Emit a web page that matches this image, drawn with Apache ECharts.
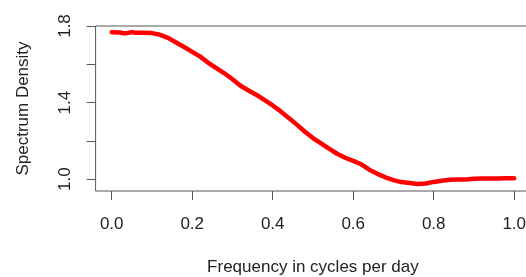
<!DOCTYPE html>
<html>
<head>
<meta charset="utf-8">
<script src="https://cdn.jsdelivr.net/npm/echarts@6/dist/echarts.min.js"></script>
<style>
html,body{margin:0;padding:0;background:#fff;}
#chart{width:526px;height:277px;}
</style>
</head>
<body>
<div id="chart"></div>
<script>
var freq = [0.00,0.02,0.03,0.04,0.05,0.06,0.08,0.10,0.12,0.14,0.16,0.18,0.20,0.22,0.24,0.26,0.28,0.30,0.32,0.34,0.36,0.38,0.40,0.42,0.44,0.46,0.48,0.50,0.52,0.54,0.56,0.58,0.60,0.62,0.64,0.66,0.68,0.70,0.72,0.74,0.76,0.78,0.80,0.82,0.84,0.86,0.88,0.90,0.92,0.94,0.96,0.98,1.00];
var density = [1.768,1.766,1.762,1.764,1.768,1.765,1.765,1.763,1.754,1.738,1.714,1.690,1.665,1.640,1.608,1.580,1.553,1.522,1.488,1.463,1.440,1.413,1.385,1.354,1.320,1.285,1.248,1.215,1.187,1.160,1.133,1.112,1.096,1.078,1.050,1.028,1.010,0.995,0.985,0.980,0.975,0.978,0.986,0.992,0.997,0.998,0.998,1.003,1.004,1.004,1.004,1.005,1.005];
var xTicks = [0, 0.2, 0.4, 0.6, 0.8, 1.0];
var yTicks = [1.0, 1.2, 1.4, 1.6, 1.8];
var yLabelTicks = [1.0, 1.4, 1.8];
var xTitle = 'Frequency in cycles per day';
var yTitle = 'Spectrum Density';

var pts = freq.map(function(f, i){ return [f, density[i]]; });
var axisColor = '#555';
var textColor = '#222';
var font = 'Liberation Sans, Arial, sans-serif';

var chart = echarts.init(document.getElementById('chart'), null, {renderer:'canvas'});
chart.setOption({
  animation: false,
  backgroundColor: '#fff',
  grid: {left: 95.6, top: 26, width: 434.7, height: 165, show: true, borderColor: axisColor, borderWidth: 1,
    backgroundColor: 'transparent', containLabel: false, outerBoundsMode: 'none'},
  xAxis: {
    type: 'value', min: -0.04, max: 1.04,
    axisLine: {show: false, onZero: false},
    splitLine: {show: false},
    axisTick: {show: true, length: 9, lineStyle: {color: axisColor}, customValues: xTicks},
    axisLabel: {show: true, customValues: xTicks, margin: 25, fontSize: 17, color: textColor, fontFamily: font,
      formatter: function(v){ return v.toFixed(1); }},
    name: xTitle, nameLocation: 'middle', nameGap: 68,
    nameTextStyle: {fontSize: 17, color: textColor, fontFamily: font}
  },
  yAxis: {
    type: 'value', min: 0.9385, max: 1.8,
    axisLine: {show: false, onZero: false},
    splitLine: {show: false},
    axisTick: {show: true, length: 9, lineStyle: {color: axisColor}, customValues: yTicks},
    axisLabel: {show: true, customValues: yLabelTicks, rotate: 90, margin: 22, fontSize: 17, color: textColor, fontFamily: font,
      formatter: function(v){ return v.toFixed(1); }},
    name: yTitle, nameLocation: 'middle', nameGap: 64,
    nameTextStyle: {fontSize: 17, color: textColor, fontFamily: font}
  },
  series: [{
    type: 'line', data: pts, showSymbol: false, smooth: false,
    lineStyle: {color: '#ff0000', width: 4.5, cap: 'round', join: 'round'}
  }]
});
</script>
</body>
</html>
